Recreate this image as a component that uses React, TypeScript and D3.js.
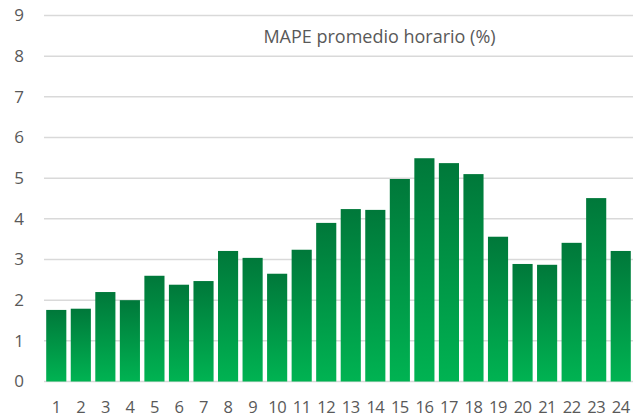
import React from "react";
import { scaleLinear, scaleBand, range } from "d3";

const hours = range(1, 25).map(String);
const mape = [1.76, 1.79, 2.2, 2.0, 2.6, 2.38, 2.47, 3.21, 3.04, 2.65, 3.24, 3.9,
  4.24, 4.22, 4.98, 5.49, 5.37, 5.1, 3.56, 2.89, 2.87, 3.41, 4.51, 3.21];
const yTicks = [0, 1, 2, 3, 4, 5, 6, 7, 8, 9];
const title = "MAPE promedio horario (%)";

const App = () => {
  const width = 643;
  const height = 418;
  const left = 44;
  const right = 633;
  const top = 15.5;
  const bottom = 381.5;
  const font = "'Open Sans', sans-serif";

  // scales
  const xScale = scaleBand().domain(hours).range([left, right]).paddingInner(0.18).paddingOuter(0.09);
  const yScale = scaleLinear().domain([0, 9]).range([bottom, top]);

  const gridlines = yTicks.map((t) => (
    <g key={t}>
      <line x1={left} x2={right} y1={yScale(t)} y2={yScale(t)} stroke="#D9D9D9" strokeWidth={1.5} />
      <text x={24} y={yScale(t)} dy="0.35em" textAnchor="end" fontSize={17} fill="#595959" fontFamily={font}>
        {t}
      </text>
    </g>
  ));

  const bars = hours.map((h, i) => (
    <rect
      key={h}
      x={xScale(h)}
      y={yScale(mape[i])}
      width={xScale.bandwidth()}
      height={yScale(0) - yScale(mape[i])}
      fill="url(#barGrad)"
    />
  ));

  const labels = hours.map((h) => (
    <text
      key={h}
      x={(xScale(h) as number) + xScale.bandwidth() / 2}
      y={407}
      dy="0.35em"
      textAnchor="middle"
      fontSize={16.5}
      letterSpacing={-0.5}
      fill="#595959"
      fontFamily={font}
    >
      {h}
    </text>
  ));

  return (
    <svg width={width} height={height} style={{ position: "absolute", left: 0, top: 0 }}>
      <defs>
        <linearGradient id="barGrad" x1="0" y1="0" x2="0" y2="1">
          <stop offset="0" stopColor="#00783A" />
          <stop offset="1" stopColor="#00B352" />
        </linearGradient>
      </defs>
      <rect width={width} height={height} fill="#FFF" />
      {gridlines}
      {bars}
      {labels}
      <text x={379.5} y={37} dy="0.35em" textAnchor="middle" fontSize={18} fill="#595959" fontFamily={font}>
        {title}
      </text>
    </svg>
  );
};

export default App;
